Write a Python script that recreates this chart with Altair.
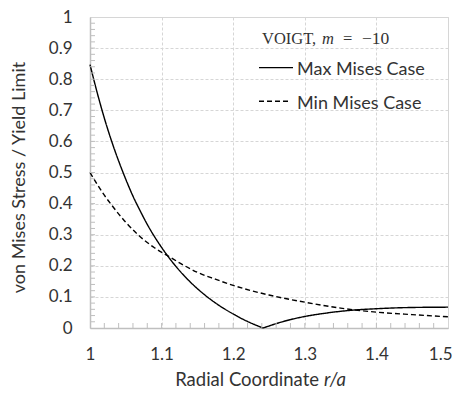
import altair as alt
import pandas as pd

# ---- data ----
# Max Mises case, falling branch (down to the zero near r/a = 1.242)
max1_r = [1.000, 1.010, 1.020, 1.030, 1.040, 1.050, 1.060, 1.070, 1.080, 1.090, 1.100,
          1.120, 1.140, 1.160, 1.180, 1.200, 1.220, 1.2418]
max1_s = [0.847, 0.757, 0.675, 0.602, 0.537, 0.478, 0.424, 0.377, 0.333, 0.294, 0.259,
          0.198, 0.148, 0.107, 0.073, 0.045, 0.021, 0.000]
# Max Mises case, rising branch
max2_r = [1.2418, 1.260, 1.280, 1.300, 1.330, 1.360, 1.400, 1.450, 1.500]
max2_s = [0.000, 0.014, 0.027, 0.037, 0.048, 0.056, 0.062, 0.066, 0.067]

min_r = [1.000, 1.010, 1.020, 1.030, 1.050, 1.067, 1.090, 1.1116, 1.130, 1.150, 1.175,
         1.200, 1.250, 1.300, 1.350, 1.400, 1.450, 1.500]
min_s = [0.500, 0.462, 0.427, 0.396, 0.340, 0.300, 0.258, 0.228, 0.203, 0.179, 0.157,
         0.137, 0.106, 0.083, 0.064, 0.051, 0.043, 0.036]

x_major = [1, 1.1, 1.2, 1.3, 1.4, 1.5]
y_major = [0, 0.1, 0.2, 0.3, 0.4, 0.5, 0.6, 0.7, 0.8, 0.9, 1]
x_minor = [round(1 + 0.02 * i, 2) for i in range(1, 25)]
y_minor = [round(0.02 * i, 2) for i in range(1, 50)]

legend_max = "Max Mises Case"
legend_min = "Min Mises Case"
y_title = "von Mises Stress / Yield Limit"
x_title_main = "Radial Coordinate"
x_title_ital = "r/a"

W, H = 358, 311
FONT = "Lato"
FS = 18
LFS = 17
TXT = "#333333"
AX = "#bfbfbf"
GRID = "#d6d6d6"

df = pd.concat([
    pd.DataFrame({"r": max1_r, "s": max1_s, "seg": "max1", "case": "Max"}),
    pd.DataFrame({"r": max2_r, "s": max2_s, "seg": "max2", "case": "Max"}),
    pd.DataFrame({"r": min_r, "s": min_s, "seg": "min", "case": "Min"}),
])

xs = alt.Scale(domain=[1, 1.5], nice=False, zero=False)
ys = alt.Scale(domain=[0, 1], nice=False)

common_axis = dict(format="~g", tickSize=0, labelPadding=18,
                   labelFont=FONT, labelFontSize=LFS, labelColor=TXT,
                   labelOverlap=False, labelFlush=False, labelBound=False,
                   domainColor=AX, domainWidth=1.5,
                   grid=True, gridColor=GRID, gridDash=[3, 2], gridWidth=1)

x_axis = alt.Axis(values=x_major, title=None, **common_axis,
                  labelAlign={"condition": {"test": "datum.value >= 1.5", "value": "right"}, "value": "center"},
                  labelOffset={"condition": {"test": "datum.value >= 1.5", "value": 4}, "value": 0})
y_axis = alt.Axis(values=y_major, title=y_title, **common_axis,
                  titleFont=FONT, titleFontSize=FS, titleFontWeight="normal", titleColor=TXT,
                  titleX=-71, titleY=160, titleAngle=-90, titleBaseline="middle", titleAlign="center")

lines = alt.Chart(df).mark_line(color="black", strokeWidth=1.4, interpolate="monotone").encode(
    x=alt.X("r:Q", scale=xs, axis=x_axis),
    y=alt.Y("s:Q", scale=ys, axis=y_axis),
    strokeDash=alt.StrokeDash("case:N", scale=alt.Scale(domain=["Max", "Min"], range=[[1, 0], [5, 3]]), legend=None),
    detail="seg:N",
)

xt = alt.Chart(pd.DataFrame({"t": x_minor})).mark_rule(color=AX, strokeWidth=1).encode(
    x=alt.X("t:Q", scale=xs, axis=x_axis), y=alt.value(H), y2=alt.value(H - 5))
yt = alt.Chart(pd.DataFrame({"t": y_minor})).mark_rule(color=AX, strokeWidth=1).encode(
    y=alt.Y("t:Q", scale=ys, axis=y_axis), x=alt.value(0), x2=alt.value(5))

def txt(s, x, y, align="left", font=FONT, size=FS, style="normal", baseline="alphabetic"):
    return alt.Chart(pd.DataFrame({"l": [s]})).mark_text(
        align=align, baseline=baseline, font=font, fontSize=size, fontStyle=style, color=TXT
    ).encode(text="l:N", x=alt.value(x), y=alt.value(y))

SERIF = "Liberation Serif"
SFS = 16.5
leg = [
    txt("VOIGT,", 172, 26.6, font=SERIF, size=SFS),
    txt("m", 232, 26.6, font=SERIF, size=SFS, style="italic"),
    txt("=", 253, 26.6, font=SERIF, size=SFS),
    txt("\u221210", 272, 26.6, font=SERIF, size=17.5),
    txt(legend_max, 207, 58.3),
    txt(legend_min, 207, 91.6),
]
leg_lines = [
    alt.Chart(pd.DataFrame({"c": ["Max"]})).mark_rule(color="black", strokeWidth=1.4).encode(
        x=alt.value(169), x2=alt.value(203), y=alt.value(50.6)),
    alt.Chart(pd.DataFrame({"c": ["Min"]})).mark_rule(color="black", strokeWidth=1.4, strokeDash=[5, 3]).encode(
        x=alt.value(169), x2=alt.value(200), y=alt.value(84.3)),
]
xtitle = [
    txt(x_title_main, 229, 369, align="right", size=18.5),
    txt(x_title_ital, 234, 369, style="italic", size=18.5),
]

chart = alt.layer(lines, xt, yt, *leg_lines, *leg, *xtitle).properties(
    width=W, height=H,
    autosize=alt.AutoSizeParams(type="none"),
    padding={"left": 82, "top": 9, "right": 4, "bottom": 62},
).configure_view(stroke=GRID, strokeWidth=1)

chart.save("out.html", embed_options={"renderer": "svg", "actions": False})
